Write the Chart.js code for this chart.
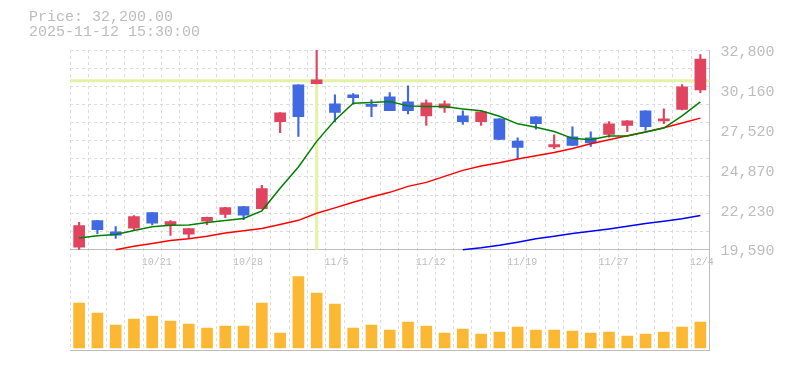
<!DOCTYPE html>
<html>
<head>
<meta charset="utf-8">
<script src="https://cdn.jsdelivr.net/npm/chart.js@4.4.1/dist/chart.umd.min.js"></script>
<style>
  html, body { margin: 0; padding: 0; background: #ffffff; }
  #wrap { position: relative; width: 785px; height: 370px; }
</style>
</head>
<body>
<div id="wrap"><canvas id="c" width="785" height="370"></canvas></div>
<script>
// ---------- data ----------
const dates = ['10/15','10/16','10/17','10/20','10/21','10/22','10/23','10/24','10/27','10/28',
               '10/29','10/30','10/31','11/4','11/5','11/6','11/7','11/10','11/11','11/12',
               '11/13','11/14','11/17','11/18','11/19','11/20','11/21','11/25','11/26','11/27',
               '11/28','12/1','12/2','12/3','12/4'];
const open  = [19740,21500,20760,21000,22030,21220,20600,21460,21920,22430,
               22300,28060,30490,30570,29230,29830,29210,29700,29370,28440,
               28970,28440,28060,28240,26770,28380,26390,27050,26990,27210,
               27800,28770,28110,28860,30160];
const high  = [21390,21520,21110,21840,22050,21500,20990,21740,22380,22445,
               23840,28650,30500,33000,29830,29910,29500,29980,30420,29500,
               29430,28770,28720,28260,26990,28390,27190,27710,27380,28060,
               28120,28780,28900,30510,32490];
const low   = [19600,20630,20320,20850,21220,20520,20300,21240,21700,21570,
               22280,27320,27070,30560,28060,29210,28390,28780,28570,27800,
               28660,27870,27800,26860,25600,27560,26260,26470,26410,27030,
               27400,27470,27930,28840,29980];
const close = [21180,20910,20540,21770,21330,21440,20980,21720,22360,21860,
               23620,28640,28390,30820,28660,29650,29060,28790,28790,29300,
               29230,28060,28700,26880,26350,27930,26530,26480,26640,27910,
               28110,27730,28240,30360,32200];
// volume, thousand shares
const volume = [900,700,460,580,640,540,480,400,440,440,
                900,300,1426,1100,880,400,460,360,520,440,
                300,380,280,320,420,360,360,340,300,320,
                240,280,320,420,520];
// moving averages
const ma5  = [20350,20495,20580,20845,21090,21195,21220,21375,21505,21640,
              22150,23650,25050,26750,28150,29280,29320,29385,29100,29055,
              29055,28900,28770,28410,27910,27680,27400,26950,26855,27100,
              27100,27365,27630,28440,29365];
const ma25 = [null,null,19580,19800,19985,20185,20300,20470,20690,20825,
              20980,21240,21520,21990,22345,22715,23070,23375,23770,24035,
              24430,24830,25120,25335,25580,25800,26015,26280,26590,26855,
              27120,27365,27650,27960,28290];
const ma75 = [null,null,null,null,null,null,null,null,null,null,
              null,null,null,null,null,null,null,null,null,null,
              null,19580,19700,19865,20070,20295,20470,20645,20800,20955,
              21130,21305,21460,21620,21835];
const priceTickLabels = [32800, 30160, 27520, 24870, 22230, 19590];
const dateTickLabels = ['10/21','10/28','11/5','11/12','11/19','11/27','12/4'];
const headerLines = ['Price: 32,200.00', '2025-11-12 15:30:00'];
const crosshairDate = '11/4';
const crosshairPrice = 30770;

// ---------- derived ----------
const UP = '#e0445e', DOWN = '#4169e1';
const candleColors = close.map((c, i) => c >= open[i] ? UP : DOWN);
const bodies = dates.map((d, i) => [open[i], close[i]]);
const wicks  = dates.map((d, i) => [low[i], high[i]]);

const PRICE_MAX = priceTickLabels[0];
const PRICE_MIN = priceTickLabels[priceTickLabels.length - 1];
const PRICE_SHARE = 199.5 / 300;               // price pane share of plot height
const PRICE_AXIS_MIN = PRICE_MAX - (PRICE_MAX - PRICE_MIN) / PRICE_SHARE;
const GRID_STEPS = 11;
const gridValues = Array.from({length: GRID_STEPS + 1}, (_, k) => PRICE_MAX - k * (PRICE_MAX - PRICE_MIN) / GRID_STEPS);
const isGrid = v => v !== undefined && Math.abs(v - PRICE_MIN) > 1 && gridValues.some(g => Math.abs(g - v) < 0.5);

const GRID_COLOR = '#dcdcdc';
const AXIS_COLOR = '#bdbdbd';
const TEXT_COLOR = '#bdbdbd';
const MONO = 'Liberation Mono';

const crosshairPlugin = {
  id: 'crosshair',
  beforeDatasetsDraw(chart) {
    const {ctx, chartArea, scales} = chart;
    const x = scales.x.getPixelForValue(dates.indexOf(crosshairDate));
    const y = scales.y.getPixelForValue(crosshairPrice);
    const yb = scales.y.getPixelForValue(PRICE_MIN);
    ctx.save();
    ctx.strokeStyle = '#e2f3a6';
    ctx.lineWidth = 3;
    ctx.beginPath();
    ctx.moveTo(chartArea.left, y); ctx.lineTo(chartArea.right, y);
    ctx.moveTo(x, y); ctx.lineTo(x, yb);
    ctx.stroke();
    ctx.restore();
  }
};

new Chart(document.getElementById('c'), {
  type: 'bar',
  data: {
    labels: dates,
    datasets: [
      { type: 'line', label: 'MA5', data: ma5, yAxisID: 'y', borderColor: '#008000', borderWidth: 1.5,
        pointRadius: 0, fill: false, tension: 0, order: 0 },
      { type: 'line', label: 'MA25', data: ma25, yAxisID: 'y', borderColor: '#ff0000', borderWidth: 1.5,
        pointRadius: 0, fill: false, tension: 0, order: 0 },
      { type: 'line', label: 'MA75', data: ma75, yAxisID: 'y', borderColor: '#0000ff', borderWidth: 1.5,
        pointRadius: 0, fill: false, tension: 0, order: 0 },
      { type: 'bar', label: 'Body', data: bodies, yAxisID: 'y', backgroundColor: candleColors,
        barThickness: 11, grouped: false, order: 1, clip: 0 },
      { type: 'bar', label: 'Wick', data: wicks, yAxisID: 'y', backgroundColor: candleColors,
        barThickness: 1.5, grouped: false, order: 2, clip: 0 },
      { type: 'bar', label: 'Volume', data: volume, yAxisID: 'yv', backgroundColor: '#fdb833',
        barThickness: 11, grouped: false, order: 3, clip: 0 }
    ]
  },
  options: {
    responsive: false,
    animation: false,
    devicePixelRatio: 1,
    layout: { padding: { left: 29, right: 0, top: 0, bottom: 20 } },
    plugins: {
      legend: { display: false },
      tooltip: { enabled: false },
      title: {
        display: true, align: 'start', text: headerLines, color: TEXT_COLOR,
        font: { family: MONO, size: 15, weight: 'normal', lineHeight: 1 },
        padding: { top: 10, bottom: 10 }
      }
    },
    scales: {
      x: {
        type: 'category',
        position: { y: PRICE_MIN },
        offset: true,
        grid: { display: true, offset: true, color: GRID_COLOR, lineWidth: 1, drawTicks: false },
        border: { display: true, color: AXIS_COLOR, width: 1, dash: [3, 3] },
        ticks: {
          autoSkip: false, maxRotation: 0, minRotation: 0, align: 'start', labelOffset: -10.5, padding: 7,
          color: TEXT_COLOR, font: { family: MONO, size: 10 },
          callback: function (v) { const l = this.getLabelForValue(v); return dateTickLabels.includes(l) ? l : ''; }
        }
      },
      x2: {
        type: 'category', position: 'bottom',
        grid: { display: false, drawTicks: false },
        border: { display: true, color: AXIS_COLOR, width: 1 },
        ticks: { display: false }
      },
      y: {
        type: 'linear', position: 'right',
        min: PRICE_AXIS_MIN, max: PRICE_MAX,
        afterBuildTicks: (s) => {
          const vals = [...gridValues, ...priceTickLabels];
          const uniq = [];
          vals.forEach(v => { if (!uniq.some(u => Math.abs(u - v) < 0.5)) uniq.push(v); });
          uniq.sort((a, b) => a - b);
          s.ticks = uniq.map(v => ({ value: v }));
        },
        afterFit: (s) => { s.width = 75.5; },
        grid: { color: (ctx) => isGrid(ctx.tick && ctx.tick.value) ? GRID_COLOR : 'rgba(0,0,0,0)', lineWidth: 1, drawTicks: false },
        border: { display: true, color: AXIS_COLOR, width: 1, dash: [3, 3] },
        ticks: {
          autoSkip: false, padding: 11, labelOffset: 2, color: TEXT_COLOR,
          font: { family: MONO, size: 15 },
          callback: (v) => priceTickLabels.some(p => Math.abs(p - v) < 0.5) ? Number(v).toLocaleString('en-US') : ''
        }
      },
      yv: { type: 'linear', display: false, min: -40, max: 5960 },
      yl: {
        type: 'linear', position: 'left', display: true,
        grid: { display: false, drawTicks: false },
        border: { display: false },
        ticks: { display: false },
        afterFit: (s) => { s.width = 41; }
      }
    }
  },
  plugins: [crosshairPlugin]
});
</script>
</body>
</html>
